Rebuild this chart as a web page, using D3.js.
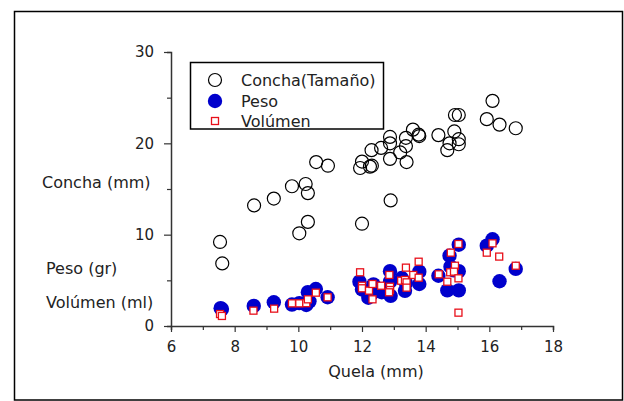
<!doctype html>
<html>
<head>
    <style>
        body { margin: 0; background: #fff; }
        text { font-family: "Century Gothic", "DejaVu Sans", sans-serif; fill: #222; }
    </style>
    <script src="https://d3js.org/d3.v7.min.js"></script>
</head>
<body>

<svg width="624" height="401"></svg>
<script>

    // [quela (mm), concha (mm)]
    var concha = [
        [7.54, 9.2], [7.61, 6.85], [8.61, 13.2], [9.23, 13.95], [9.8, 15.3], [10.23, 15.55],
        [10.3, 14.55], [10.3, 11.4], [10.03, 10.15], [10.56, 17.95], [10.93, 17.55],
        [11.94, 17.3], [12.0, 18.0], [12.0, 11.2], [12.25, 17.45], [12.31, 17.55], [12.3, 19.25],
        [12.6, 19.5], [12.88, 20.0], [12.88, 20.7], [12.88, 18.3], [12.9, 13.75],
        [13.2, 19.0], [13.38, 19.7], [13.38, 20.6], [13.4, 17.95], [13.6, 21.5], [13.78, 20.95],
        [13.8, 20.8], [14.4, 20.9], [14.68, 19.25], [14.75, 20.0], [14.9, 21.3], [14.92, 23.1],
        [15.04, 23.1], [15.04, 20.45], [15.04, 19.9], [15.92, 22.65], [16.1, 24.65],
        [16.32, 22.05], [16.83, 21.65]
    ];

    // [quela (mm), peso (gr)]
    var peso = [
        [7.56, 1.95], [7.6, 1.85], [8.6, 2.2], [9.23, 2.6], [9.8, 2.35], [10.03, 2.5],
        [10.25, 2.3], [10.35, 2.7], [10.3, 3.7], [10.55, 4.05], [10.92, 3.15],
        [11.92, 4.85], [12.0, 4.0], [12.2, 3.1], [12.3, 3.5], [12.36, 4.55], [12.55, 4.0],
        [12.62, 3.7], [12.88, 6.0], [12.88, 4.85], [12.9, 3.3], [13.25, 5.25], [13.35, 3.85],
        [13.38, 4.7], [13.8, 5.95], [13.8, 4.6], [14.4, 5.5],
        [14.68, 3.9], [14.75, 7.7], [14.78, 6.5], [14.88, 6.1], [15.04, 8.9], [15.04, 6.0],
        [15.04, 3.9], [15.92, 8.8], [16.1, 9.5], [16.32, 4.9], [16.83, 6.25]
    ];

    // [quela (mm), volumen (ml)]
    var volumen = [
        [7.54, 1.31], [7.6, 1.1], [8.59, 1.68], [9.24, 1.9], [9.8, 2.48], [10.03, 2.48],
        [10.25, 2.5], [10.3, 2.92], [10.55, 3.65], [10.92, 3.14],
        [11.94, 5.88], [12.0, 4.41], [12.0, 4.13], [12.22, 3.87], [12.33, 4.6], [12.33, 2.92],
        [12.6, 4.41], [12.86, 5.59], [12.88, 4.3], [12.88, 3.94], [12.85, 3.69], [13.23, 4.96],
        [13.35, 5.04], [13.38, 6.39], [13.4, 4.78], [13.4, 4.2], [13.61, 5.59], [13.78, 7.04],
        [13.78, 5.29], [14.41, 5.66],
        [15.03, 8.98], [14.79, 8.03], [14.92, 6.6], [14.77, 5.88], [14.89, 5.95], [15.03, 5.22],
        [14.68, 4.85], [15.03, 1.46], [16.1, 9.05], [15.92, 8.03], [16.31, 7.6], [16.83, 6.6]
    ];

    var xTicks = [6, 8, 10, 12, 14, 16, 18],
        yTicks = [0, 10, 20, 30],
        legendLabels = ["Concha(Tamaño)", "Peso", "Volúmen"];

    var svg = d3.select("svg");

    // outer frame
    svg.append("rect")
       .attr("x", 14.5).attr("y", 11.5)
       .attr("width", 608).attr("height", 388.5)
       .attr("fill", "none").attr("stroke", "#000").attr("stroke-width", 1.5);

    var x = d3.scaleLinear().domain([6, 18]).range([171, 553]),
        y = d3.scaleLinear().domain([0, 30]).range([326, 52]);

    // x axis, major + minor ticks
    var gx = svg.append("g").attr("transform", "translate(0,326)");
    gx.call(d3.axisBottom(x).tickValues(xTicks).tickSize(6).tickPadding(9).tickFormat(d3.format("d")));
    gx.append("g").call(d3.axisBottom(x).tickValues(d3.range(7, 18, 2)).tickSize(4).tickFormat(""));

    // y axis, major + minor ticks
    var gy = svg.append("g").attr("transform", "translate(171,0)");
    gy.call(d3.axisLeft(y).tickValues(yTicks).tickSize(7).tickPadding(10).tickFormat(d3.format("d")));
    gy.append("g").call(d3.axisLeft(y).tickValues([5, 15, 25]).tickSize(4).tickFormat(""));

    gx.select("g .domain").remove();
    gy.select("g .domain").remove();
    svg.selectAll(".domain").attr("stroke", "#333").attr("stroke-width", 1.5);
    svg.selectAll(".tick line").attr("stroke", "#333").attr("stroke-width", 1.2);
    svg.selectAll(".tick text").attr("font-size", "15px").attr("fill", "#222")
       .style("font-family", "\"Century Gothic\", \"DejaVu Sans\", sans-serif");

    // axis titles
    svg.append("text").attr("x", 376).attr("y", 377)
       .attr("text-anchor", "middle").attr("font-size", "16px").text("Quela (mm)");
    svg.append("text").attr("x", 42).attr("y", 188).attr("font-size", "16px").text("Concha (mm)");
    svg.append("text").attr("x", 46).attr("y", 274).attr("font-size", "16px").text("Peso (gr)");
    svg.append("text").attr("x", 46).attr("y", 308).attr("font-size", "16px").text("Volúmen (ml)");

    // points
    svg.append("g").selectAll("circle")
       .data(concha).enter().append("circle")
       .attr("cx", function (d) { return x(d[0]); })
       .attr("cy", function (d) { return y(d[1]); })
       .attr("r", 6.5)
       .attr("fill", "none").attr("stroke", "#000").attr("stroke-width", 1.2);

    svg.append("g").selectAll("circle")
       .data(peso).enter().append("circle")
       .attr("cx", function (d) { return x(d[0]); })
       .attr("cy", function (d) { return y(d[1]); })
       .attr("r", 7.2)
       .attr("fill", "#0000cc");

    var s = 7;
    svg.append("g").selectAll("rect")
       .data(volumen).enter().append("rect")
       .attr("x", function (d) { return x(d[0]) - s / 2; })
       .attr("y", function (d) { return y(d[1]) - s / 2; })
       .attr("width", s).attr("height", s)
       .attr("fill", "#fff").attr("stroke", "#e8101a").attr("stroke-width", 1.3);

    // legend
    var lg = svg.append("g");
    lg.append("rect").attr("x", 190.5).attr("y", 62.5).attr("width", 193).attr("height", 66.5)
      .attr("fill", "#fff").attr("stroke", "#000").attr("stroke-width", 1.5);
    var ly = [80, 101, 121];
    lg.append("circle").attr("cx", 215).attr("cy", ly[0]).attr("r", 6.5)
      .attr("fill", "none").attr("stroke", "#000").attr("stroke-width", 1.2);
    lg.append("circle").attr("cx", 215).attr("cy", ly[1]).attr("r", 7.2).attr("fill", "#0000cc");
    lg.append("rect").attr("x", 215 - s / 2).attr("y", ly[2] - s / 2).attr("width", s).attr("height", s)
      .attr("fill", "#fff").attr("stroke", "#e8101a").attr("stroke-width", 1.3);
    lg.selectAll(".lbl").data(legendLabels).enter().append("text")
      .attr("class", "lbl")
      .attr("x", 241)
      .attr("y", function (d, i) { return ly[i] + 6; })
      .attr("font-size", "16px")
      .text(function (d) { return d; });

</script>
</body>
</html>
